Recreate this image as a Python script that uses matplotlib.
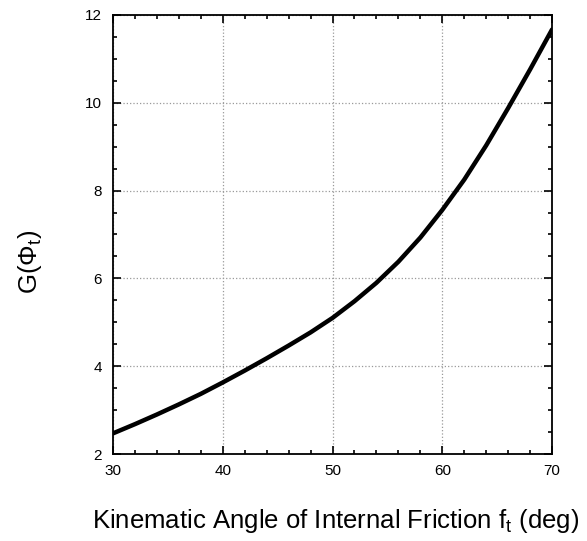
import matplotlib
matplotlib.use("Agg")
import matplotlib.pyplot as plt
from matplotlib.ticker import MultipleLocator

plt.rcParams["font.family"] = ["Liberation Sans", "DejaVu Sans"]
plt.rcParams["mathtext.default"] = "regular"

# values
friction_angle = [30, 32, 34, 36, 38, 40, 42, 44, 46, 48, 50,
                  52, 54, 56, 58, 60, 62, 64, 66, 68, 70]
g_value = [2.47, 2.68, 2.90, 3.13, 3.37, 3.63, 3.90, 4.18, 4.47, 4.77, 5.10,
           5.48, 5.90, 6.38, 6.93, 7.56, 8.25, 9.03, 9.88, 10.76, 11.67]

fig = plt.figure(figsize=(5.87, 5.41), dpi=100)
ax = fig.add_axes([0.1925, 0.1608, 0.748, 0.8115])

ax.plot(friction_angle, g_value, color="black", linewidth=3.2,
        solid_capstyle="round", solid_joinstyle="round")

ax.set_xlim(30, 70)
ax.set_ylim(2, 12)
ax.xaxis.set_major_locator(MultipleLocator(10))
ax.xaxis.set_minor_locator(MultipleLocator(2))
ax.yaxis.set_major_locator(MultipleLocator(2))
ax.yaxis.set_minor_locator(MultipleLocator(0.5))

ax.tick_params(which="both", direction="in", top=True, right=True, labelsize=11, width=1.2)
ax.tick_params(which="major", length=6)
ax.tick_params(axis="x", which="major", pad=7)
ax.tick_params(axis="y", which="major", pad=8)
ax.tick_params(which="minor", length=3)
for s in ax.spines.values():
    s.set_linewidth(1.3)

ax.grid(True, which="major", linestyle=":", color="#999999", linewidth=0.9)

# axis titles placed in figure coords
fig.text(0.571, 0.037, "Kinematic Angle of Internal Friction f$_t$ (deg)",
         fontsize=18.5, ha="center", va="center")
fig.text(0.051, 0.516, "G(Φ$_t$)", fontsize=18.5, rotation=90,
         ha="center", va="center")

fig.savefig("out.png", dpi=100)
